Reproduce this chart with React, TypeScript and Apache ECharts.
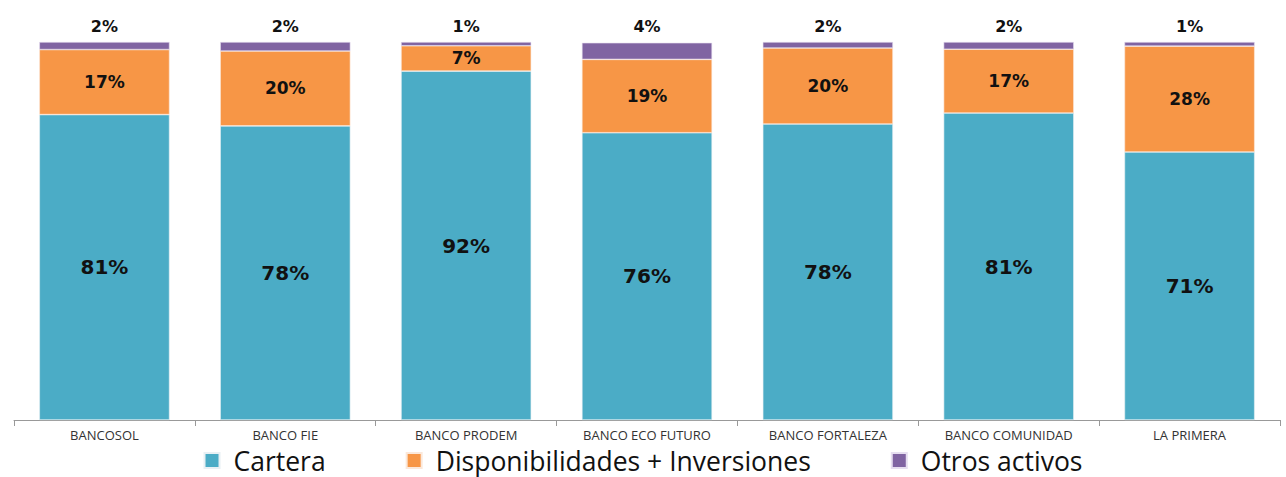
import React, { useEffect, useRef } from "react";
import * as echarts from "echarts";

const categories = ["BANCOSOL", "BANCO FIE", "BANCO PRODEM", "BANCO ECO FUTURO", "BANCO FORTALEZA", "BANCO COMUNIDAD", "LA PRIMERA"];
const cartera = [80.8, 77.8, 92.3, 76.0, 78.3, 81.2, 70.9];
const disponibilidades = [17.2, 19.8, 6.7, 19.4, 20.1, 16.9, 28.0];
const otros = [2.0, 2.4, 1.0, 4.4, 1.6, 1.9, 1.1];
const seriesNames = ["Cartera", "Disponibilidades + Inversiones", "Otros activos"];

export default function App() {
  const ref = useRef<HTMLDivElement>(null);
  useEffect(() => {
    document.body.style.margin = "0";
    if (!ref.current) return;
    const chart = echarts.init(ref.current, null, { renderer: "svg" });
    const fmt = (p: any) => Math.round(p.value) + "%";
    const labelBase = {
      show: true,
      formatter: fmt,
      color: "#111",
      fontFamily: "DejaVu Sans",
      fontWeight: "bold" as const,
    };
    chart.setOption({
      animation: false,
      grid: { left: 14, right: 6, top: 42, bottom: 57, containLabel: false },
      legend: {
        bottom: 3,
        left: "center",
        padding: 0,
        itemWidth: 15,
        itemHeight: 15,
        itemGap: 80,
        icon: "rect",
        textStyle: { fontSize: 26.5, lineHeight: 27, color: "#111", fontFamily: "Open Sans", padding: [0, 0, 0, 9] },
        data: seriesNames,
      },
      xAxis: {
        type: "category",
        data: categories,
        axisLine: { lineStyle: { color: "#999", width: 1 } },
        axisTick: { show: true, length: 6, lineStyle: { color: "#999" } },
        axisLabel: { fontSize: 13, lineHeight: 13, color: "#333", fontFamily: "Open Sans", margin: 8, interval: 0 },
      },
      yAxis: { type: "value", min: 0, max: 100, show: false, splitLine: { show: false } },
      series: [
        {
          name: seriesNames[0],
          type: "bar",
          stack: "total",
          data: cartera,
          barWidth: "72%",
          itemStyle: { color: "#4BACC6", borderColor: "#E8F0F4", borderWidth: 0.6 },
          label: { ...labelBase, position: "inside", fontSize: 20 },
        },
        {
          name: seriesNames[1],
          type: "bar",
          stack: "total",
          data: disponibilidades,
          itemStyle: { color: "#F79646", borderColor: "#FBE8DA", borderWidth: 0.6 },
          label: { ...labelBase, position: "inside", fontSize: 17 },
        },
        {
          name: seriesNames[2],
          type: "bar",
          stack: "total",
          data: otros,
          itemStyle: { color: "#8064A2", borderColor: "#E6DEF0", borderWidth: 0.6 },
          label: { ...labelBase, position: "top", fontSize: 16, distance: 8 },
        },
      ],
    });
    return () => chart.dispose();
  }, []);
  return <div ref={ref} style={{ width: 1286, height: 477 }} />;
}
